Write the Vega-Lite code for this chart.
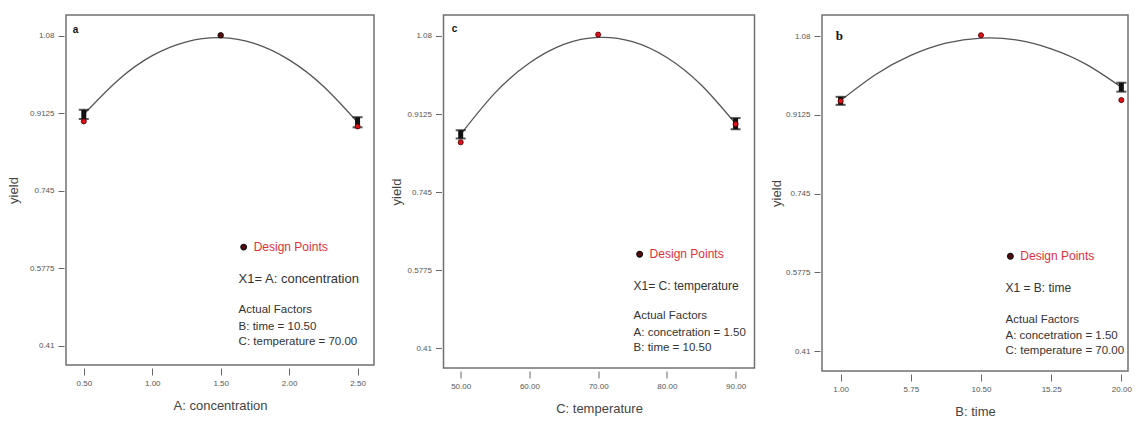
{
  "$schema": "https://vega.github.io/schema/vega-lite/v6.json",
  "background": "white",
  "padding": {"left": 6, "top": 14, "right": 3, "bottom": 0},
  "spacing": 13.5,
  "config": {
    "view": {"stroke": "#707070", "strokeWidth": 1.5},
    "font": "Liberation Sans",
    "axis": {
      "labelFont": "Liberation Sans", "labelFontSize": 8, "labelColor": "#555",
      "tickColor": "#666", "tickWidth": 1,
      "titleFont": "Liberation Sans", "titleFontSize": 13, "titleFontWeight": "normal", "titleColor": "#444",
      "domain": false, "grid": false, "labelOverlap": false, "labelFlush": false
    }
  },
  "datasets": {
    "curveA": [
      {"x": 0.5, "y": 0.910}, {"x": 0.75, "y": 0.984}, {"x": 1.0, "y": 1.037}, {"x": 1.25, "y": 1.067},
      {"x": 1.5, "y": 1.076}, {"x": 1.75, "y": 1.063}, {"x": 2.0, "y": 1.028}, {"x": 2.25, "y": 0.971}, {"x": 2.5, "y": 0.893}
    ],
    "barsA": [{"x": 0.5, "lo": 0.900, "hi": 0.920}, {"x": 2.5, "lo": 0.882, "hi": 0.904}],
    "ptsA": [{"x": 0.5, "y": 0.895, "run": "edge"}, {"x": 1.5, "y": 1.081, "run": "center"}, {"x": 2.5, "y": 0.884, "run": "edge"}],
    "annA": [
      {"x": 1.668, "y": 0.623, "text": "", "kind": "dot"},
      {"x": 1.741, "y": 0.623, "text": "Design Points", "kind": "legend"},
      {"x": 1.631, "y": 0.554, "text": "X1= A: concentration", "kind": "x1"},
      {"x": 1.631, "y": 0.487, "text": "Actual Factors", "kind": "factor"},
      {"x": 1.631, "y": 0.450, "text": "B: time = 10.50", "kind": "factor"},
      {"x": 1.631, "y": 0.418, "text": "C: temperature = 70.00", "kind": "factor"},
      {"x": 0.42, "y": 1.093, "text": "a", "kind": "tag"}
    ],
    "curveC": [
      {"x": 50, "y": 0.869}, {"x": 55, "y": 0.958}, {"x": 60, "y": 1.022}, {"x": 65, "y": 1.062},
      {"x": 70, "y": 1.077}, {"x": 75, "y": 1.068}, {"x": 80, "y": 1.034}, {"x": 85, "y": 0.975}, {"x": 90, "y": 0.892}
    ],
    "barsC": [{"x": 50, "lo": 0.860, "hi": 0.878}, {"x": 90, "lo": 0.880, "hi": 0.904}],
    "ptsC": [{"x": 50, "y": 0.852, "run": "edge"}, {"x": 70, "y": 1.083, "run": "edge"}, {"x": 90, "y": 0.891, "run": "edge"}],
    "annC": [
      {"x": 76.04, "y": 0.612, "text": "", "kind": "dot"},
      {"x": 77.49, "y": 0.612, "text": "Design Points", "kind": "legend"},
      {"x": 75.16, "y": 0.543, "text": "X1= C: temperature", "kind": "x1"},
      {"x": 75.16, "y": 0.479, "text": "Actual Factors", "kind": "factor"},
      {"x": 75.16, "y": 0.442, "text": "A: concetration = 1.50", "kind": "factor"},
      {"x": 75.16, "y": 0.410, "text": "B: time = 10.50", "kind": "factor"},
      {"x": 48.7, "y": 1.095, "text": "c", "kind": "tag"}
    ],
    "curveB": [
      {"x": 1, "y": 0.943}, {"x": 3.375, "y": 0.9985}, {"x": 5.75, "y": 1.039}, {"x": 8.125, "y": 1.065},
      {"x": 10.5, "y": 1.076}, {"x": 12.875, "y": 1.072}, {"x": 15.25, "y": 1.053}, {"x": 17.625, "y": 1.020}, {"x": 20, "y": 0.9715}
    ],
    "barsB": [{"x": 1, "lo": 0.934, "hi": 0.951}, {"x": 20, "lo": 0.962, "hi": 0.981}],
    "ptsB": [{"x": 1, "y": 0.942, "run": "edge"}, {"x": 10.5, "y": 1.082, "run": "edge"}, {"x": 20, "y": 0.944, "run": "edge"}],
    "annB": [
      {"x": 12.49, "y": 0.612, "text": "", "kind": "dot"},
      {"x": 13.16, "y": 0.612, "text": "Design Points", "kind": "legend"},
      {"x": 12.16, "y": 0.544, "text": "X1 = B: time", "kind": "x1"},
      {"x": 12.16, "y": 0.476, "text": "Actual Factors", "kind": "factor"},
      {"x": 12.16, "y": 0.442, "text": "A: concetration = 1.50", "kind": "factor"},
      {"x": 12.16, "y": 0.410, "text": "C: temperature = 70.00", "kind": "factor"},
      {"x": 0.67, "y": 1.08, "text": "b", "kind": "tag"}
    ]
  },
  "hconcat": [
    {
      "width": 308, "height": 350,
      "encoding": {
        "x": {"field": "x", "type": "quantitative", "scale": {"domain": [0.37, 2.62], "nice": false, "zero": false},
          "axis": {"values": [0.5, 1, 1.5, 2, 2.5], "format": ".2f", "title": "A: concentration", "offset": 3, "tickSize": 7, "labelPadding": 4, "minExtent": 22, "maxExtent": 22, "titlePadding": 9}},
        "y": {"field": "y", "type": "quantitative", "title": "yield", "scale": {"domain": [0.368, 1.125], "nice": false, "zero": false},
          "axis": {"values": [0.41, 0.5775, 0.745, 0.9125, 1.08], "labelExpr": "format(datum.value, '.4~f')", "offset": 2, "tickSize": 6, "labelPadding": 4, "minExtent": 35, "maxExtent": 35, "titlePadding": 8.5}}
      },
      "layer": [
        {"data": {"name": "curveA"}, "mark": {"type": "line", "interpolate": "natural", "color": "#555", "strokeWidth": 1.3}, "encoding": {}},
        {"data": {"name": "barsA"}, "mark": {"type": "rule", "color": "#111", "strokeWidth": 5},
          "encoding": {"y": {"field": "lo", "type": "quantitative", "title": "yield"}, "y2": {"field": "hi"}}},
        {"data": {"name": "barsA"}, "mark": {"type": "tick", "orient": "horizontal", "color": "#111", "size": 10, "thickness": 2},
          "encoding": {"y": {"field": "lo", "type": "quantitative", "title": "yield"}}},
        {"data": {"name": "barsA"}, "mark": {"type": "tick", "orient": "horizontal", "color": "#111", "size": 10, "thickness": 2},
          "encoding": {"y": {"field": "hi", "type": "quantitative", "title": "yield"}}},
        {"data": {"name": "ptsA"}, "transform": [{"filter": "datum.run === 'edge'"}], "mark": {"type": "point", "shape": "circle", "filled": true, "fill": "#e0101a", "stroke": "#400", "strokeWidth": 0.8, "size": 26, "opacity": 1}, "encoding": {}},
        {"data": {"name": "ptsA"}, "transform": [{"filter": "datum.run === 'center'"}], "mark": {"type": "point", "shape": "circle", "filled": true, "fill": "#5a0a0a", "stroke": "#111", "strokeWidth": 1, "size": 30, "opacity": 1}, "encoding": {}},
        {"data": {"name": "annA"}, "transform": [{"filter": "datum.kind === 'dot'"}], "mark": {"type": "point", "shape": "circle", "filled": true, "fill": "#5a0a0a", "stroke": "#111", "strokeWidth": 1.2, "size": 32, "opacity": 1}, "encoding": {}},
        {"data": {"name": "annA"}, "transform": [{"filter": "datum.kind === 'legend'"}], "mark": {"type": "text", "align": "left", "baseline": "middle", "color": "#e0303a", "fontSize": 12, "font": "Liberation Sans"}, "encoding": {"text": {"field": "text"}}},
        {"data": {"name": "annA"}, "transform": [{"filter": "datum.kind === 'x1'"}], "mark": {"type": "text", "align": "left", "baseline": "middle", "color": "#333", "fontSize": 13, "font": "Liberation Sans"}, "encoding": {"text": {"field": "text"}}},
        {"data": {"name": "annA"}, "transform": [{"filter": "datum.kind === 'factor'"}], "mark": {"type": "text", "align": "left", "baseline": "middle", "color": "#333", "fontSize": 11.5, "font": "Liberation Sans"}, "encoding": {"text": {"field": "text"}}},
        {"data": {"name": "annA"}, "transform": [{"filter": "datum.kind === 'tag'"}], "mark": {"type": "text", "align": "left", "baseline": "middle", "color": "#111", "fontSize": 10, "fontWeight": "bold", "font": "Liberation Sans"}, "encoding": {"text": {"field": "text"}}}
      ]
    },
    {
      "width": 311, "height": 353,
      "encoding": {
        "x": {"field": "x", "type": "quantitative", "scale": {"domain": [47.5, 92.75], "nice": false, "zero": false},
          "axis": {"values": [50, 60, 70, 80, 90], "format": ".2f", "title": "C: temperature", "offset": 3, "tickSize": 7, "labelPadding": 4, "minExtent": 22, "maxExtent": 22, "titlePadding": 9}},
        "y": {"field": "y", "type": "quantitative", "title": "yield", "scale": {"domain": [0.368, 1.125], "nice": false, "zero": false},
          "axis": {"values": [0.41, 0.5775, 0.745, 0.9125, 1.08], "labelExpr": "format(datum.value, '.4~f')", "offset": 2, "tickSize": 6, "labelPadding": 4, "minExtent": 35, "maxExtent": 35, "titlePadding": 3.5}}
      },
      "layer": [
        {"data": {"name": "curveC"}, "mark": {"type": "line", "interpolate": "natural", "color": "#555", "strokeWidth": 1.3}, "encoding": {}},
        {"data": {"name": "barsC"}, "mark": {"type": "rule", "color": "#111", "strokeWidth": 5},
          "encoding": {"y": {"field": "lo", "type": "quantitative", "title": "yield"}, "y2": {"field": "hi"}}},
        {"data": {"name": "barsC"}, "mark": {"type": "tick", "orient": "horizontal", "color": "#111", "size": 10, "thickness": 2},
          "encoding": {"y": {"field": "lo", "type": "quantitative", "title": "yield"}}},
        {"data": {"name": "barsC"}, "mark": {"type": "tick", "orient": "horizontal", "color": "#111", "size": 10, "thickness": 2},
          "encoding": {"y": {"field": "hi", "type": "quantitative", "title": "yield"}}},
        {"data": {"name": "ptsC"}, "mark": {"type": "point", "shape": "circle", "filled": true, "fill": "#e0101a", "stroke": "#400", "strokeWidth": 0.8, "size": 26, "opacity": 1}, "encoding": {}},
        {"data": {"name": "annC"}, "transform": [{"filter": "datum.kind === 'dot'"}], "mark": {"type": "point", "shape": "circle", "filled": true, "fill": "#5a0a0a", "stroke": "#111", "strokeWidth": 1.2, "size": 32, "opacity": 1}, "encoding": {}},
        {"data": {"name": "annC"}, "transform": [{"filter": "datum.kind === 'legend'"}], "mark": {"type": "text", "align": "left", "baseline": "middle", "color": "#e0303a", "fontSize": 12, "font": "Liberation Sans"}, "encoding": {"text": {"field": "text"}}},
        {"data": {"name": "annC"}, "transform": [{"filter": "datum.kind === 'x1'"}], "mark": {"type": "text", "align": "left", "baseline": "middle", "color": "#333", "fontSize": 12, "font": "Liberation Sans"}, "encoding": {"text": {"field": "text"}}},
        {"data": {"name": "annC"}, "transform": [{"filter": "datum.kind === 'factor'"}], "mark": {"type": "text", "align": "left", "baseline": "middle", "color": "#333", "fontSize": 11.5, "font": "Liberation Sans"}, "encoding": {"text": {"field": "text"}}},
        {"data": {"name": "annC"}, "transform": [{"filter": "datum.kind === 'tag'"}], "mark": {"type": "text", "align": "left", "baseline": "middle", "color": "#111", "fontSize": 10, "fontWeight": "bold", "font": "Liberation Sans"}, "encoding": {"text": {"field": "text"}}}
      ]
    },
    {
      "width": 306, "height": 356,
      "encoding": {
        "x": {"field": "x", "type": "quantitative", "scale": {"domain": [-0.26, 20.45], "nice": false, "zero": false},
          "axis": {"values": [1, 5.75, 10.5, 15.25, 20], "format": ".2f", "title": "B: time", "offset": 3, "tickSize": 7, "labelPadding": 4, "minExtent": 22, "maxExtent": 22, "titlePadding": 9}},
        "y": {"field": "y", "type": "quantitative", "title": "yield", "scale": {"domain": [0.368, 1.125], "nice": false, "zero": false},
          "axis": {"values": [0.41, 0.5775, 0.745, 0.9125, 1.08], "labelExpr": "format(datum.value, '.4~f')", "offset": 2, "tickSize": 6, "labelPadding": 4, "minExtent": 35, "maxExtent": 35, "titlePadding": 1.5}}
      },
      "layer": [
        {"data": {"name": "curveB"}, "mark": {"type": "line", "interpolate": "natural", "color": "#555", "strokeWidth": 1.3}, "encoding": {}},
        {"data": {"name": "barsB"}, "mark": {"type": "rule", "color": "#111", "strokeWidth": 5},
          "encoding": {"y": {"field": "lo", "type": "quantitative", "title": "yield"}, "y2": {"field": "hi"}}},
        {"data": {"name": "barsB"}, "mark": {"type": "tick", "orient": "horizontal", "color": "#111", "size": 10, "thickness": 2},
          "encoding": {"y": {"field": "lo", "type": "quantitative", "title": "yield"}}},
        {"data": {"name": "barsB"}, "mark": {"type": "tick", "orient": "horizontal", "color": "#111", "size": 10, "thickness": 2},
          "encoding": {"y": {"field": "hi", "type": "quantitative", "title": "yield"}}},
        {"data": {"name": "ptsB"}, "mark": {"type": "point", "shape": "circle", "filled": true, "fill": "#e0101a", "stroke": "#400", "strokeWidth": 0.8, "size": 26, "opacity": 1}, "encoding": {}},
        {"data": {"name": "annB"}, "transform": [{"filter": "datum.kind === 'dot'"}], "mark": {"type": "point", "shape": "circle", "filled": true, "fill": "#5a0a0a", "stroke": "#111", "strokeWidth": 1.2, "size": 32, "opacity": 1}, "encoding": {}},
        {"data": {"name": "annB"}, "transform": [{"filter": "datum.kind === 'legend'"}], "mark": {"type": "text", "align": "left", "baseline": "middle", "color": "#e0303a", "fontSize": 12, "font": "Liberation Sans"}, "encoding": {"text": {"field": "text"}}},
        {"data": {"name": "annB"}, "transform": [{"filter": "datum.kind === 'x1'"}], "mark": {"type": "text", "align": "left", "baseline": "middle", "color": "#333", "fontSize": 12, "font": "Liberation Sans"}, "encoding": {"text": {"field": "text"}}},
        {"data": {"name": "annB"}, "transform": [{"filter": "datum.kind === 'factor'"}], "mark": {"type": "text", "align": "left", "baseline": "middle", "color": "#333", "fontSize": 11.5, "font": "Liberation Sans"}, "encoding": {"text": {"field": "text"}}},
        {"data": {"name": "annB"}, "transform": [{"filter": "datum.kind === 'tag'"}], "mark": {"type": "text", "align": "left", "baseline": "middle", "color": "#111", "fontSize": 13, "fontWeight": "bold", "font": "Liberation Serif"}, "encoding": {"text": {"field": "text"}}}
      ]
    }
  ]
}
